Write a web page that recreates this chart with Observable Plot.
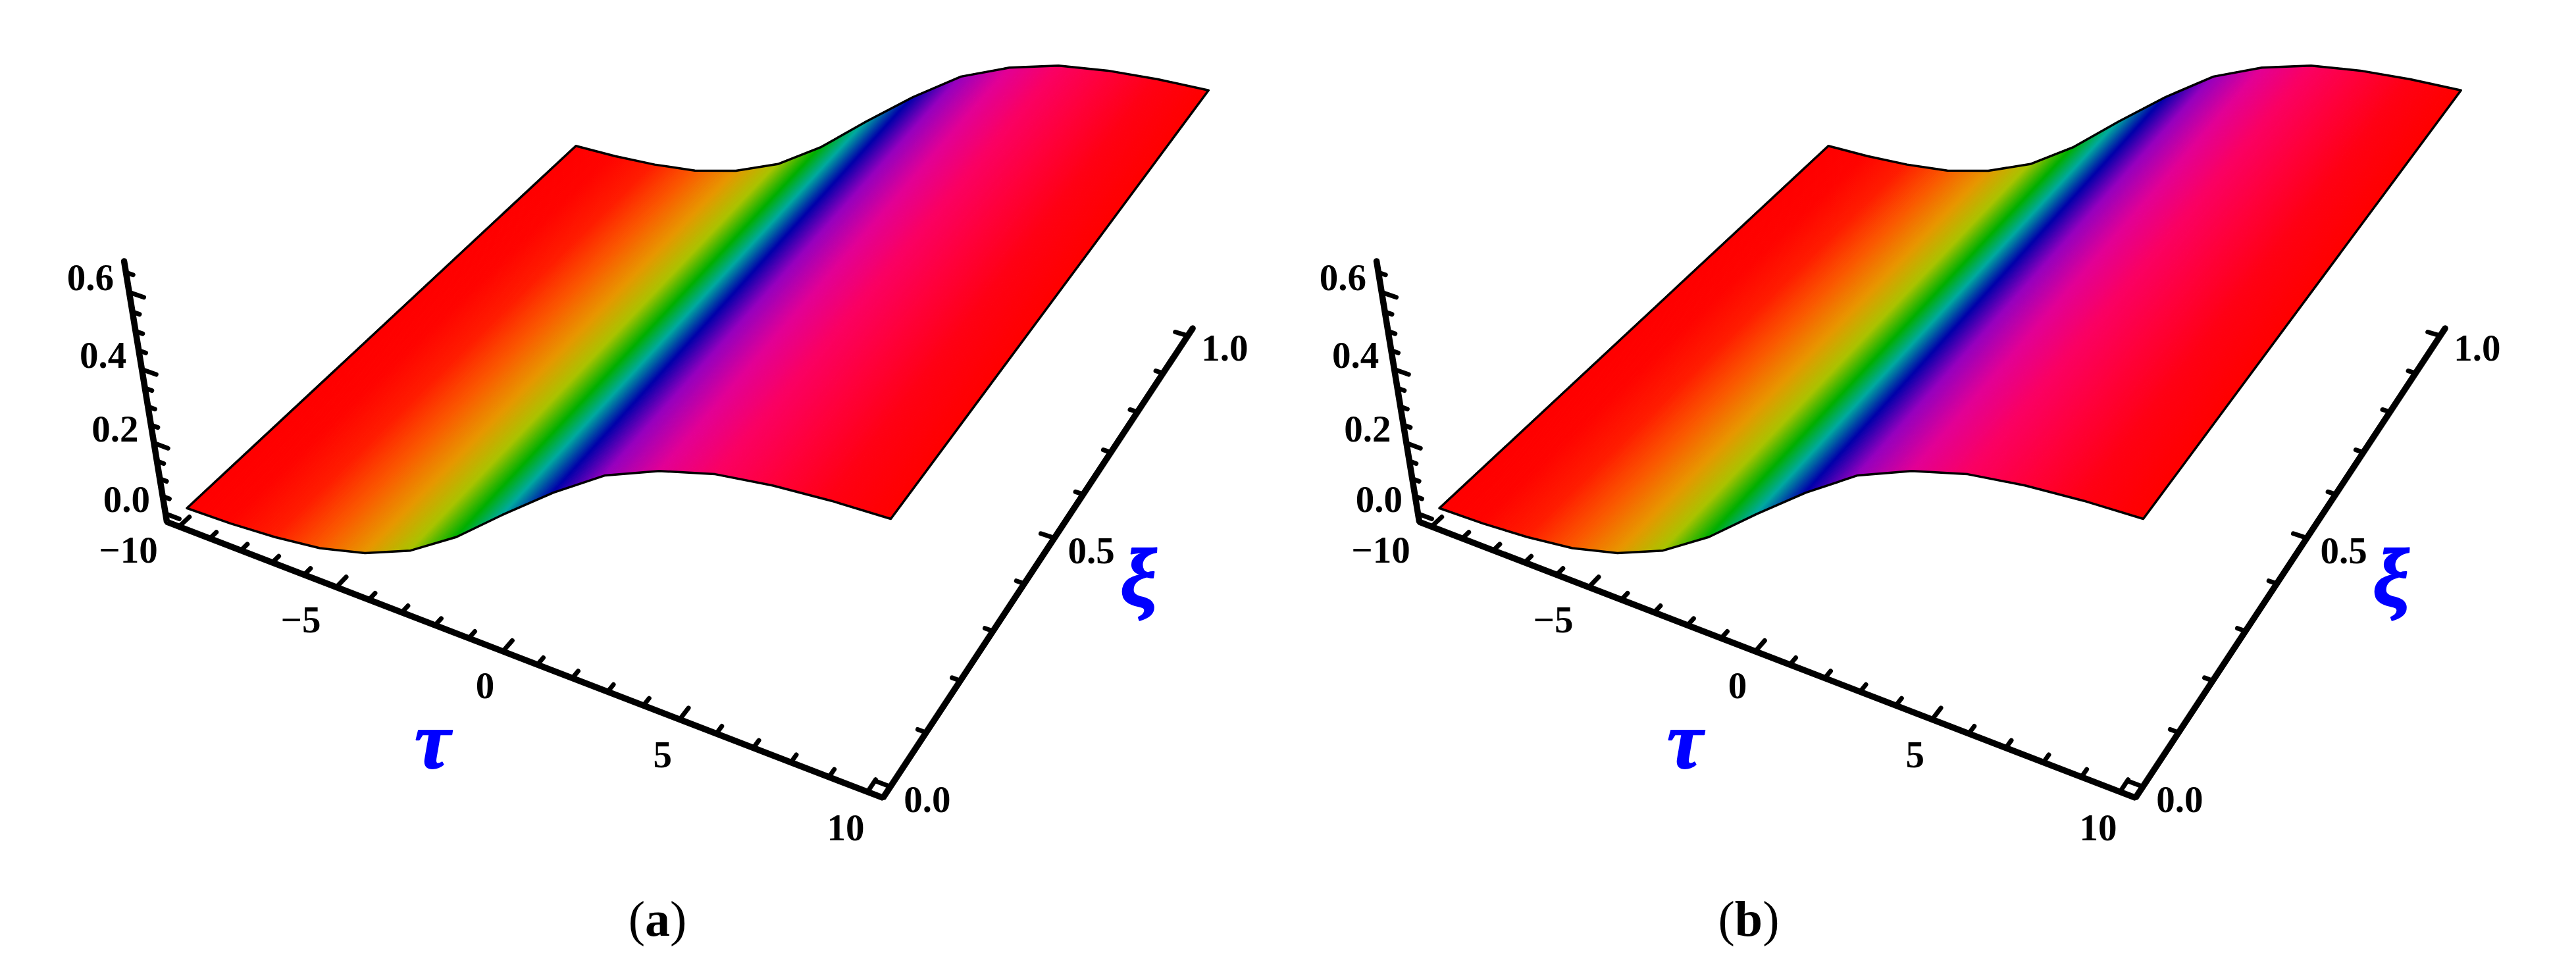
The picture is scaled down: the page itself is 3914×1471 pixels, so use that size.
<!DOCTYPE html>
<html>
<head>
<meta charset="utf-8">
<script src="https://cdn.jsdelivr.net/npm/d3@7"></script>
<script src="https://cdn.jsdelivr.net/npm/@observablehq/plot@0.6"></script>
<style>
html,body{margin:0;padding:0;background:#fff;overflow:hidden}
#row{display:flex;width:3914px}
#row svg{display:block;flex:none;background:transparent}
#caps{position:relative;height:131px;width:3914px;font-family:"Liberation Serif",serif;font-size:76px;line-height:76px;color:#000}
#caps span{position:absolute;top:18px;transform:translateX(-50%)}
#caps b{font-weight:bold}
</style>
</head>
<body>
<div id="row"></div>
<div id="caps"></div>
<script>
// Surface samples
const tauSamples = [-10,-8.571,-7.143,-5.714,-4.286,-2.857,-1.429,0,1.429,2.857,4.286,5.714,7.143,8.571,10];
const surfaceHeight = [0.004,0.008,0.018,0.036,0.072,0.129,0.216,0.326,0.430,0.521,0.579,0.618,0.638,0.649,0.654];
const sampleColours = ["#ff0000","#ff0500","#ff1e00","#fa5a00","#e89600","#aac300","#00af00","#00aaa0","#0000aa","#9600be","#e10096","#fa0064","#ff003c","#ff0014","#ff0000"];

// Axes
const tauMajor = [-10,-5,0,5,10];
const tauLabels = ["\u221210","\u22125","0","5","10"];
const tauLabelDx = [-77,-54,-27,-26,-33];
const tauLabelDy = [37,50,53,54,55];
const tauMinor = [-9,-8,-7,-6,-4,-3,-2,-1,1,2,3,4,6,7,8,9];
const xiMajor = [0,0.5,1];
const xiLabels = ["0.0","0.5","1.0"];
const xiMinor = [0.1,0.2,0.3,0.4,0.6,0.7,0.8,0.9];
const zMajor = [0,0.2,0.4,0.6];
const zLabels = ["0.0","0.2","0.4","0.6"];
const zMinor = [0.05,0.1,0.15,0.25,0.3,0.35,0.45,0.5,0.55,0.65];
const box = {tau:[-10.4,10.4], xi:[-0.02,1.02], z:[-0.024,0.678]};
const panelCaptions = [["a",999],["b",2657]];

// Perspective camera fitted to the box and surface landmarks of the reference
const camera = [0.47515,0.81424,-0.11938,0.77580,0.14198,-0.53516,-0.64287,0.96161,-0.05918,0.21557,-0.11304];
function project(t,k,z){
  const H=camera,X=t/10,w=H[8]*X+H[9]*k+H[10]*z+1;
  return {x:1000*(H[0]*X+H[1]*k+H[2]*z+H[3])/w,y:1000*(H[4]*X+H[5]*k+H[6]*z+H[7])/w};
}

const heightAt=d3.scaleLinear(tauSamples,surfaceHeight);
// Each facet between two samples is painted in thin slices so its colour blends across it
const strips=[];
const slices=24;
for(let s=0;s<tauSamples.length-1;s++){
  for(let q=0;q<slices;q++){
    const a=tauSamples[s]+(tauSamples[s+1]-tauSamples[s])*q/slices;
    const b=tauSamples[s]+(tauSamples[s+1]-tauSamples[s])*(q+1)/slices;
    const id=s*slices+q,m=(a+b)/2;
    for(const t of [a,b]){
      const f=project(t,0,heightAt(t)),g=project(t,1,heightAt(t));
      strips.push({id,m,x1:f.x,y1:f.y,x2:g.x,y2:g.y});
    }
  }
}
const outline=[
  ...tauSamples.map((t,i)=>project(t,0,surfaceHeight[i])),
  ...tauSamples.map((t,i)=>project(t,1,surfaceHeight[i])).reverse()
];
outline.push(outline[0]);
const axisPath=[
  project(box.tau[0],box.xi[0],box.z[1]),
  project(box.tau[0],box.xi[0],box.z[0]),
  project(box.tau[1],box.xi[0],box.z[0]),
  project(box.tau[1],box.xi[1],box.z[0])
];
const tick=(a,b)=>({x1:a.x,y1:a.y,x2:b.x,y2:b.y});
const tauBase=t=>project(t,box.xi[0],box.z[0]);
const xiBase=k=>project(box.tau[1],k,box.z[0]);
const zBase=z=>project(box.tau[0],box.xi[0],z);
const tauTick=(t,l)=>tick(tauBase(t),project(t,box.xi[0]+l,box.z[0]));
const xiTick=(k,l)=>tick(xiBase(k),project(box.tau[1]-l,k,box.z[0]));
const zTick=(z,l)=>tick(zBase(z),project(box.tau[0]+l,box.xi[0],z));
const majorTicks=[...tauMajor.map(t=>tauTick(t,0.022)),...xiMajor.map(k=>xiTick(k,0.38)),...zMajor.map(z=>zTick(z,0.45))];
const minorTicks=[...tauMinor.map(t=>tauTick(t,0.014)),...xiMinor.map(k=>xiTick(k,0.22)),...zMinor.map(z=>zTick(z,0.22))];

const labelFont={fontFamily:"Liberation Serif",fontWeight:"bold",fontSize:57,fill:"#000",lineAnchor:"middle",textAnchor:"middle"};
const titleFont={fontFamily:"Liberation Serif",fontWeight:"bold",fontStyle:"italic",fill:"#0000ff",stroke:"#0000ff",strokeWidth:2,lineAnchor:"middle",textAnchor:"middle"};

function panel(){
  return Plot.plot({
    width:1903,height:1340,margin:0,
    x:{domain:[0,1903],range:[0,1903],axis:null},
    y:{domain:[0,1340],range:[0,1340],axis:null},
    color:{type:"linear",domain:tauSamples,range:sampleColours,interpolate:"rgb"},
    style:{background:"transparent"},
    marks:[
      Plot.area(strips,{x1:"x1",y1:"y1",x2:"x2",y2:"y2",z:"id",fill:"m",stroke:"m",strokeWidth:1.2}),
      Plot.line(outline,{x:"x",y:"y",stroke:"#000",strokeWidth:3.5,strokeLinejoin:"round"}),
      Plot.link(majorTicks,{x1:"x1",y1:"y1",x2:"x2",y2:"y2",stroke:"#000",strokeWidth:7,strokeLinecap:"round"}),
      Plot.link(minorTicks,{x1:"x1",y1:"y1",x2:"x2",y2:"y2",stroke:"#000",strokeWidth:7,strokeLinecap:"round"}),
      Plot.line(axisPath,{x:"x",y:"y",stroke:"#000",strokeWidth:9.5,strokeLinejoin:"miter",strokeLinecap:"round"}),
      ...tauMajor.map((t,i)=>Plot.text([tauLabels[i]],{...labelFont,text:d=>d,x:()=>tauBase(t).x,y:()=>tauBase(t).y,dx:tauLabelDx[i],dy:tauLabelDy[i]})),
      Plot.text(xiMajor,{...labelFont,text:(d,i)=>xiLabels[i],x:d=>xiBase(d).x,y:d=>xiBase(d).y,dx:56,dy:20}),
      Plot.text(zMajor,{...labelFont,text:(d,i)=>zLabels[i],x:d=>zBase(d).x,y:d=>zBase(d).y,dx:-59,dy:-21}),
      Plot.text(["\u03c4"],{...titleFont,fontSize:122,text:d=>d,x:()=>tauBase(0).x,y:()=>tauBase(0).y,dx:-107,dy:138}),
      Plot.text(["\u03be"],{...titleFont,fontSize:125,text:d=>d,x:()=>xiBase(0.5).x,y:()=>xiBase(0.5).y,dx:128,dy:62})
    ]
  });
}
const row=document.getElementById("row");
row.append(panel(),panel());
const caps=document.getElementById("caps");
for(const [t,x] of panelCaptions){const s=document.createElement("span");s.append("(");const b=document.createElement("b");b.textContent=t;s.append(b,")");s.style.left=x+"px";caps.append(s);}
</script>
</body>
</html>
